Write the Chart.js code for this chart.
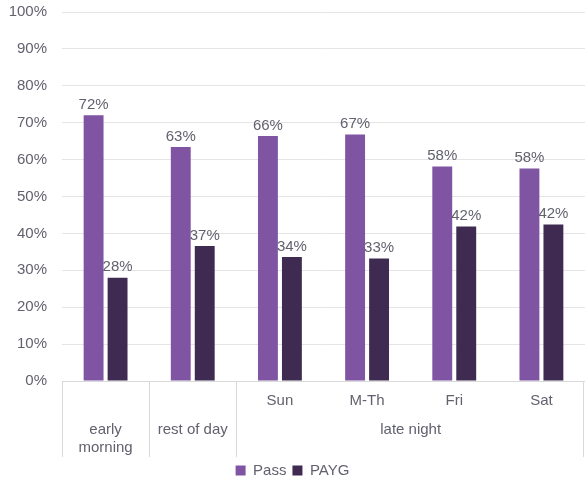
<!DOCTYPE html>
<html>
<head>
<meta charset="utf-8">
<script src="https://cdn.jsdelivr.net/npm/chart.js@4/dist/chart.umd.min.js"></script>
<style>
  html, body { margin: 0; padding: 0; background: #fff; }
  #wrap { width: 585px; height: 487px; }
</style>
</head>
<body>
<div id="wrap"><canvas id="myChart"></canvas></div>
<script>
'use strict'

// chart data
const subLabels = ['', '', 'Sun', 'M-Th', 'Fri', 'Sat'];
const groupLabels = [['early', 'morning'], ['rest of day'], ['late night']];
const groupSpans = [1, 1, 4];
const seriesNames = ['Pass', 'PAYG'];
const passValues = [72, 63.4, 66.4, 66.8, 58.1, 57.6];
const paygValues = [28, 36.6, 33.6, 33.2, 41.9, 42.4];
const yTickMax = 100;
const yTickStep = 10;

const textColor = '#62626f';
const fontFamily = "'Liberation Sans', Arial, sans-serif";
const lineColor = '#d9d9d9';

// value labels above bars
const barLabels = {
  id: 'barLabels',
  afterDatasetsDraw(chart) {
    const ctx = chart.ctx;
    ctx.save();
    ctx.font = '15px ' + fontFamily;
    ctx.fillStyle = textColor;
    ctx.textAlign = 'center';
    ctx.textBaseline = 'bottom';
    chart.data.datasets.forEach((ds, di) => {
      const meta = chart.getDatasetMeta(di);
      meta.data.forEach((bar, i) => {
        ctx.fillText(Math.round(ds.data[i]) + '%', bar.x, bar.y - 3);
      });
    });
    ctx.restore();
  }
};

// second level of the category axis
const groupAxis = {
  id: 'groupAxis',
  afterDraw(chart) {
    const ctx = chart.ctx;
    const xs = chart.scales.x;
    const catW = xs.width / subLabels.length;
    const top = xs.top;
    const bottom = xs.bottom;
    ctx.save();
    ctx.strokeStyle = lineColor;
    ctx.lineWidth = 1;
    let start = 0;
    const edges = [0];
    groupSpans.forEach(s => { start += s; edges.push(start); });
    edges.forEach(e => {
      const x = Math.min(Math.round(xs.left + e * catW) + 0.5, chart.width - 1.5);
      ctx.beginPath();
      ctx.moveTo(x, top);
      ctx.lineTo(x, bottom);
      ctx.stroke();
    });
    ctx.font = '15px ' + fontFamily;
    ctx.fillStyle = textColor;
    ctx.textAlign = 'center';
    ctx.textBaseline = 'middle';
    groupLabels.forEach((lines, g) => {
      const cx = xs.left + (edges[g] + edges[g + 1]) / 2 * catW;
      lines.forEach((t, li) => {
        ctx.fillText(t, cx, top + 49 + li * 18);
      });
    });
    ctx.restore();
  }
};

const data = {
  labels: subLabels,
  datasets: [
    { label: seriesNames[0], data: passValues, backgroundColor: '#7f55a3', borderWidth: 0 },
    { label: seriesNames[1], data: paygValues, backgroundColor: '#3f2b51', borderWidth: 0 }
  ]
};

new Chart(document.getElementById('myChart'), {
  type: 'bar',
  data: data,
  plugins: [barLabels, groupAxis],
  options: {
    responsive: true,
    maintainAspectRatio: false,
    animation: false,
    layout: { padding: { top: 12, right: 0, left: 0, bottom: -1 } },
    datasets: { bar: { categoryPercentage: 0.55, barPercentage: 0.83 } },
    scales: {
      x: {
        grid: { display: false, drawTicks: false },
        border: { display: true, color: lineColor },
        ticks: { color: textColor, font: { family: fontFamily, size: 15 }, padding: 11, maxRotation: 0, autoSkip: false },
        afterFit: (s) => { s.height = 76; }
      },
      y: {
        min: 0,
        max: yTickMax,
        grid: { color: '#e5e5e5', drawTicks: true, tickLength: 15, tickColor: 'rgba(0,0,0,0)' },
        border: { display: false },
        ticks: {
          stepSize: yTickStep,
          color: textColor,
          font: { family: fontFamily, size: 15 },
          padding: 0,
          callback: (v) => v + '%'
        },
        afterFit: (s) => { s.width = 62; }
      }
    },
    plugins: {
      tooltip: { enabled: false },
      legend: {
        position: 'bottom',
        labels: {
          color: textColor,
          font: { family: fontFamily, size: 15 },
          boxWidth: 10,
          boxHeight: 10,
          padding: 6
        }
      }
    }
  }
});
</script>
</body>
</html>
